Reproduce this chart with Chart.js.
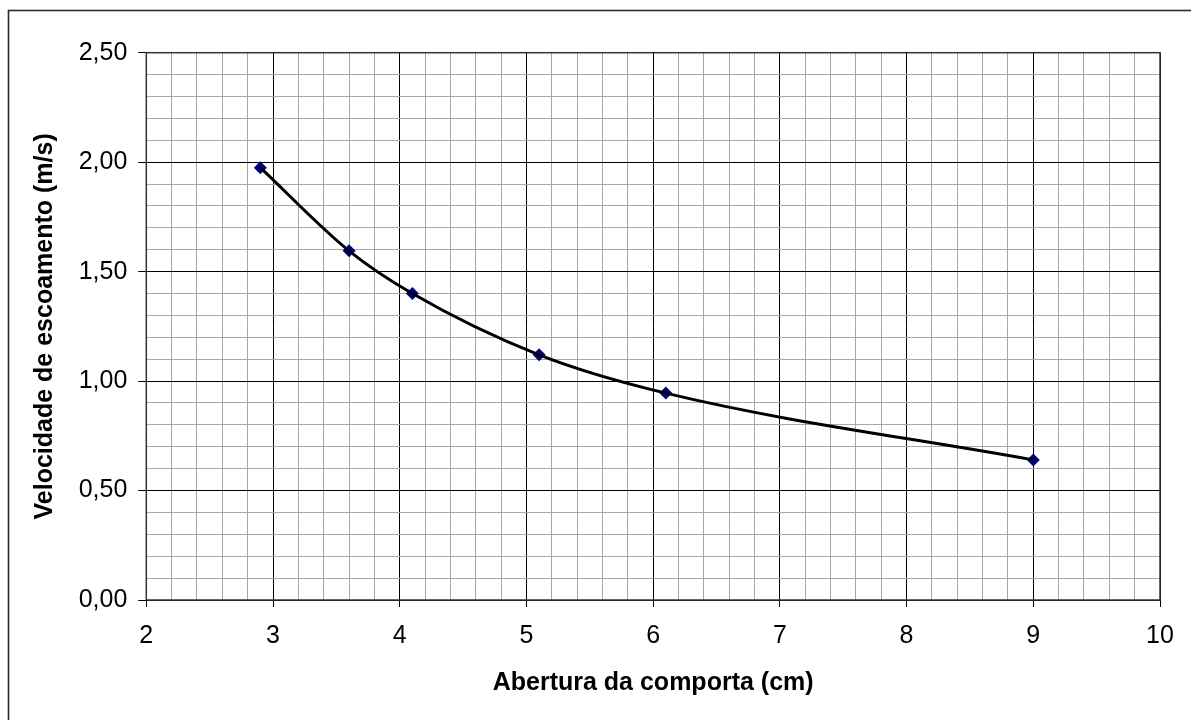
<!DOCTYPE html>
<html>
<head>
<meta charset="utf-8">
<script src="https://cdn.jsdelivr.net/npm/chart.js@4/dist/chart.umd.min.js"></script>
<style>
  html, body { margin: 0; padding: 0; background: #fff; }
  #wrap { width: 1191px; height: 720px; position: relative; }
</style>
</head>
<body>
<div id="wrap"><canvas id="c" width="1191" height="720"></canvas></div>
<script>
// Gate opening (cm) and measured flow velocity (m/s)
const abertura = [2.9, 3.6, 4.1, 5.1, 6.1, 9.0];
const velocidade = [1.975, 1.595, 1.40, 1.12, 0.945, 0.64];

// Axis ranges and steps
const xRange = [2, 10];
const yRange = [0, 2.5];
const xMinorStep = 0.2;
const yMinorStep = 0.1;
const xMajorStep = 1;
const yMajorStep = 0.5;

const points = abertura.map((x, i) => ({ x: x, y: velocidade[i] }));

function isMultiple(v, step) {
  const r = v / step;
  return Math.abs(r - Math.round(r)) < 1e-6;
}

const FONT = 'Liberation Sans, Arial, sans-serif';

// Outer frame around the whole figure and a frame around the plot area
const frames = {
  id: 'frames',
  afterDraw(chart) {
    const ctx = chart.ctx;
    const a = chart.chartArea;
    ctx.save();
    ctx.strokeStyle = '#333';
    ctx.lineWidth = 1.5;
    ctx.strokeRect(a.left, a.top, a.right - a.left, a.bottom - a.top);
    ctx.strokeStyle = '#2a2a2a';
    ctx.lineWidth = 1.6;
    ctx.strokeRect(8.5, 10.5, 1400, 900);
    ctx.restore();
  }
};

new Chart(document.getElementById('c'), {
  type: 'scatter',
  data: {
    datasets: [
      {
        label: 'curva',
        data: points,
        showLine: true,
        borderColor: '#000',
        borderWidth: 3,
        cubicInterpolationMode: 'monotone',
        pointRadius: 0,
        order: 0
      },
      {
        label: 'medições',
        data: points,
        showLine: false,
        pointStyle: 'rectRot',
        pointRadius: 6.5,
        pointBackgroundColor: '#000080',
        pointBorderColor: '#000080',
        pointBorderWidth: 0,
        order: 1
      }
    ]
  },
  options: {
    responsive: false,
    animation: false,
    layout: { padding: { left: 0, top: 52.7, right: 31, bottom: 0 } },
    plugins: {
      legend: { display: false },
      tooltip: { enabled: false }
    },
    scales: {
      x: {
        type: 'linear',
        min: xRange[0],
        max: xRange[1],
        afterFit(scale) { scale.height = 120; },
        border: { color: '#000', width: 1 },
        grid: {
          color: c => isMultiple(c.tick.value, xMajorStep) ? '#000' : '#a8a8a8',
          tickColor: c => isMultiple(c.tick.value, xMajorStep) ? '#000' : 'rgba(0,0,0,0)',
          lineWidth: 1,
          tickLength: 7
        },
        ticks: {
          stepSize: xMinorStep,
          maxTicksLimit: 200,
          autoSkip: false,
          maxRotation: 0,
          padding: 14,
          color: '#000',
          font: { family: FONT, size: 25 },
          callback: v => isMultiple(v, xMajorStep) ? String(Math.round(v)) : ''
        },
        title: {
          display: true,
          text: 'Abertura da comporta (cm)',
          color: '#000',
          font: { family: FONT, size: 25, weight: 'bold' },
          padding: { top: 0, bottom: 22 }
        }
      },
      y: {
        type: 'linear',
        min: yRange[0],
        max: yRange[1],
        afterFit(scale) { scale.width = 146.3; },
        border: { color: '#000', width: 1 },
        grid: {
          color: c => isMultiple(c.tick.value, yMajorStep) ? '#000' : '#a8a8a8',
          tickColor: c => isMultiple(c.tick.value, yMajorStep) ? '#000' : 'rgba(0,0,0,0)',
          lineWidth: 1,
          tickLength: 8
        },
        ticks: {
          stepSize: yMinorStep,
          maxTicksLimit: 200,
          autoSkip: false,
          padding: 11,
          color: '#000',
          font: { family: FONT, size: 25 },
          callback: v => isMultiple(v, yMajorStep) ? v.toFixed(2).replace('.', ',') : ''
        },
        title: {
          display: true,
          text: 'Velocidade de escoamento (m/s)',
          color: '#000',
          font: { family: FONT, size: 25, weight: 'bold' },
          padding: { top: 30, bottom: 0 }
        }
      }
    }
  },
  plugins: [frames]
});
</script>
</body>
</html>
